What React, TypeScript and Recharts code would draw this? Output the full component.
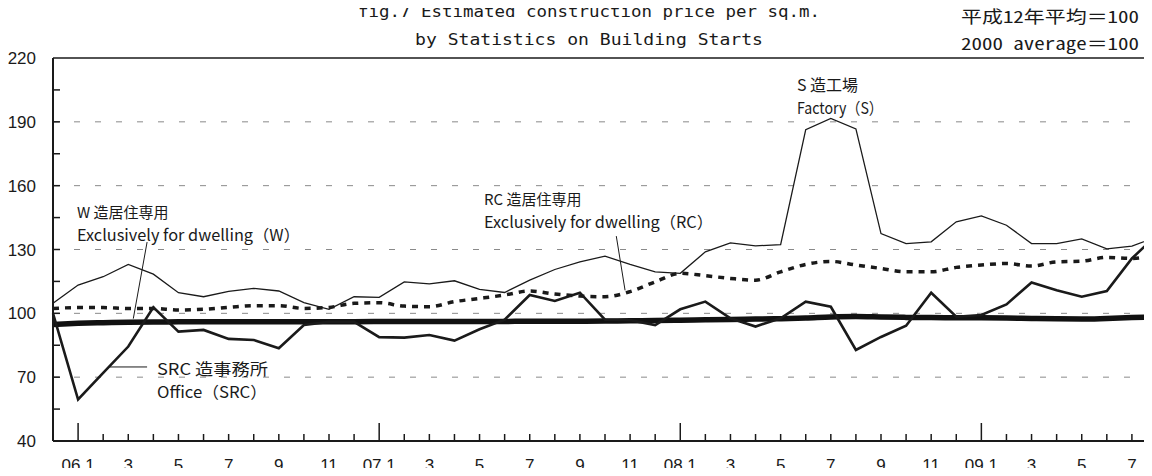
import { LineChart, Line, XAxis, YAxis, ReferenceLine } from "recharts";

// monthly index, 2000 average = 100
const months = [
  "05.12",
  "06.1", "06.2", "06.3", "06.4", "06.5", "06.6", "06.7", "06.8", "06.9", "06.10", "06.11", "06.12",
  "07.1", "07.2", "07.3", "07.4", "07.5", "07.6", "07.7", "07.8", "07.9", "07.10", "07.11", "07.12",
  "08.1", "08.2", "08.3", "08.4", "08.5", "08.6", "08.7", "08.8", "08.9", "08.10", "08.11", "08.12",
  "09.1", "09.2", "09.3", "09.4", "09.5", "09.6", "09.7", "09.8",
];

const factoryS = [
  104.7, 113.3, 117.2, 123.0, 118.4, 109.7, 107.8, 110.3, 111.7, 110.5, 105.0, 101.9, 107.8,
  107.5, 114.8, 113.8, 115.3, 111.3, 109.8, 115.6, 120.6, 124.2, 126.9, 123.0, 119.5,
  118.8, 128.9, 133.1, 131.7, 132.3, 186.3, 191.6, 186.7, 137.5, 132.8, 133.6, 143.0,
  145.8, 141.4, 132.8, 132.8, 135.0, 130.3, 131.6, 136.0,
];

const dwellingRC = [
  102.3, 102.7, 102.7, 102.3, 102.3, 101.6, 101.9, 102.8, 103.6, 103.6, 102.3, 102.8, 104.7,
  105.0, 103.4, 103.1, 105.5, 107.0, 108.6, 110.5, 109.1, 108.1, 107.8, 110.2, 114.8,
  118.8, 117.7, 116.4, 115.6, 119.5, 123.0, 124.4, 122.7, 121.1, 119.5, 119.5, 121.6,
  122.7, 123.4, 122.2, 124.2, 124.5, 126.3, 125.8, 128.0,
];

const dwellingW = [
  94.8, 95.3, 95.6, 95.8, 95.9, 96.0, 96.0, 96.0, 96.0, 96.0, 96.0, 96.0, 96.1,
  96.2, 96.2, 96.2, 96.2, 96.2, 96.2, 96.3, 96.3, 96.3, 96.4, 96.5, 96.6,
  96.8, 97.0, 97.1, 97.3, 97.5, 97.8, 98.3, 98.5, 98.3, 98.1, 98.0, 97.9,
  97.9, 97.8, 97.6, 97.4, 97.3, 97.6, 98.0, 98.3,
];

const officeSRC = [
  100.0, 59.5, 72.0, 84.4, 102.8, 91.4, 92.2, 88.0, 87.5, 83.6, 94.5, 96.0, 96.0,
  88.8, 88.6, 89.8, 87.2, 92.5, 97.0, 108.6, 105.8, 109.7, 97.0, 96.8, 94.5,
  101.9, 105.5, 97.7, 93.8, 97.7, 105.5, 103.1, 82.8, 88.9, 94.2, 109.7, 98.4,
  99.2, 104.2, 114.5, 110.9, 107.8, 110.5, 125.8, 137.0,
];

const yTicks = [40, 55, 70, 85, 100, 115, 130, 145, 160, 175, 190, 205, 220];
const gridValues = [70, 100, 130, 160, 190];

const rows = months.map((m, i) => ({
  idx: i,
  month: m,
  s: factoryS[i],
  rc: dwellingRC[i],
  w: dwellingW[i],
  src: officeSRC[i],
}));

const axisFont = "'Liberation Sans Narrow', 'Liberation Sans', Arial, sans-serif";
const titleFont = "'DejaVu Sans Mono', monospace";
const monoFont = "'Noto Sans Mono CJK JP', 'DejaVu Sans Mono', monospace";
const labelFont = "'Noto Sans CJK JP', 'Noto Sans', sans-serif";
const ink = "#1a1a1a";

const XTick = (props: any) => {
  const { x, y, payload } = props;
  const m = months[payload.value];
  const mon = Number(m.split(".")[1]);
  const isJan = mon === 1;
  const label = isJan ? m : mon % 2 === 1 ? String(mon) : "";
  return (
    <g>
      <line x1={x} y1={y} x2={x} y2={y - (isJan ? 18 : 7)} stroke={ink} strokeWidth={1.5} />
      {label && (
        <text x={x} y={y + 30} textAnchor="middle" fontSize={17} fontFamily={axisFont} fill={ink}>
          {label}
        </text>
      )}
    </g>
  );
};

const YTick = (props: any) => {
  const { x, y, payload } = props;
  const v = payload.value;
  const showLabel = (v - 40) % 30 === 0;
  return (
    <g>
      {v !== 40 && v !== 220 && (
        <line x1={x} y1={y} x2={x + 7} y2={y} stroke={ink} strokeWidth={1.5} />
      )}
      {showLabel && (
        <text x={x - 17} y={y + 6} textAnchor="end" fontSize={17} fontFamily={axisFont} fill={ink}>
          {v}
        </text>
      )}
    </g>
  );
};

const App = () => {
  return (
    <div
      style={{
        position: "relative",
        width: 1152,
        height: 476,
        margin: -8,
        overflow: "hidden",
        background: "#fff",
      }}
    >
      <LineChart
        width={1160}
        height={476}
        data={rows}
        margin={{ top: 58, right: 3, bottom: 0, left: 0 }}
      >
        <XAxis
          dataKey="idx"
          type="number"
          domain={[0, months.length - 1]}
          ticks={months.map((_, i) => i)}
          interval={0}
          height={35}
          tickSize={0}
          tickMargin={0}
          tickLine={false}
          axisLine={{ stroke: ink, strokeWidth: 2 }}
          tick={<XTick />}
        />
        <YAxis
          type="number"
          domain={[40, 220]}
          ticks={yTicks}
          interval={0}
          width={53}
          tickSize={0}
          tickMargin={0}
          tickLine={false}
          axisLine={{ stroke: ink, strokeWidth: 2 }}
          tick={<YTick />}
        />
        {gridValues.map((g) => (
          <ReferenceLine key={g} y={g} stroke="#8a8a8a" strokeWidth={1} strokeDasharray="6 15" />
        ))}
        <ReferenceLine y={220} stroke={ink} strokeWidth={1.5} />

        {/* leader lines */}
        <ReferenceLine
          segment={[{ x: 3.75, y: 133.5 }, { x: 3.2, y: 97.5 }]}
          stroke={ink}
          strokeWidth={1}
        />
        <ReferenceLine
          segment={[{ x: 2.25, y: 74.8 }, { x: 3.75, y: 74.8 }]}
          stroke={ink}
          strokeWidth={1}
        />
        <ReferenceLine
          segment={[{ x: 22.45, y: 136.3 }, { x: 22.8, y: 110.8 }]}
          stroke={ink}
          strokeWidth={1}
        />

        <Line
          type="linear"
          dataKey="s"
          stroke={ink}
          strokeWidth={1.3}
          dot={false}
          activeDot={false}
          isAnimationActive={false}
        />
        <Line
          type="monotone"
          dataKey="rc"
          stroke={ink}
          strokeWidth={3.5}
          strokeDasharray="6 6"
          dot={false}
          activeDot={false}
          isAnimationActive={false}
        />
        <Line
          type="monotone"
          dataKey="w"
          stroke="#111"
          strokeWidth={5.5}
          dot={false}
          activeDot={false}
          isAnimationActive={false}
        />
        <Line
          type="linear"
          dataKey="src"
          stroke={ink}
          strokeWidth={2.6}
          dot={false}
          activeDot={false}
          isAnimationActive={false}
        />
      </LineChart>

      <svg
        width={1152}
        height={476}
        style={{ position: "absolute", left: 0, top: 0, pointerEvents: "none" }}
      >
        <g fill={ink}>
          <text x={589} y={17} textAnchor="middle" fontSize={16} fontFamily={titleFont} textLength={462} lengthAdjust="spacingAndGlyphs">
            fig.7 Estimated construction price per sq.m.
          </text>
          <text x={589} y={45} textAnchor="middle" fontSize={16} fontFamily={titleFont} textLength={348} lengthAdjust="spacingAndGlyphs">
            by Statistics on Building Starts
          </text>
          <text x={1139} y={23} textAnchor="end" fontSize={17} fontFamily={monoFont} textLength={178} lengthAdjust="spacingAndGlyphs">
            平成12年平均＝100
          </text>
          <text x={1139} y={50} textAnchor="end" fontSize={17} fontFamily={monoFont} textLength={178} lengthAdjust="spacingAndGlyphs">
            2000 average＝100
          </text>

          <text x={797} y={91} fontSize={16} fontFamily={labelFont}>S 造工場</text>
          <text x={797} y={114} fontSize={16} fontFamily={labelFont} textLength={86} lengthAdjust="spacingAndGlyphs">
            Factory（S）
          </text>

          <text x={484} y={205} fontSize={15} fontFamily={labelFont}>RC 造居住専用</text>
          <text x={484} y={228} fontSize={16} fontFamily={labelFont} textLength={229} lengthAdjust="spacingAndGlyphs">
            Exclusively for dwelling（RC）
          </text>

          <text x={77} y={218} fontSize={15} fontFamily={labelFont}>W 造居住専用</text>
          <text x={77} y={241} fontSize={16} fontFamily={labelFont} textLength={223} lengthAdjust="spacingAndGlyphs">
            Exclusively for dwelling（W）
          </text>

          <text x={157} y={375} fontSize={16} fontFamily={labelFont} textLength={111} lengthAdjust="spacingAndGlyphs">
            SRC 造事務所
          </text>
          <text x={157} y={398} fontSize={16} fontFamily={labelFont} textLength={110} lengthAdjust="spacingAndGlyphs">
            Office（SRC）
          </text>
        </g>
      </svg>
    </div>
  );
};

export default App;
